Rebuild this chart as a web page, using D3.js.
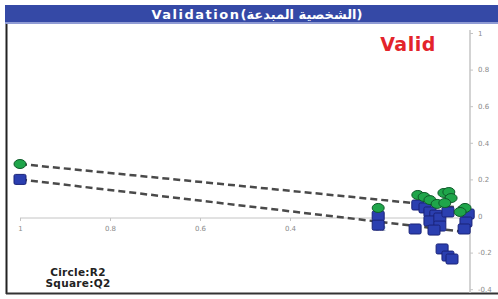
<!DOCTYPE html>
<meta charset="utf-8">
<style>
  body { margin: 0; background: #fff; }
  .tick text { fill: #8a8a8a; font-family: "DejaVu Sans", sans-serif; font-size: 7px; }
  .axis path, .axis line { stroke: #c4c4c4; }
</style>
<body>
<script src="https://d3js.org/d3.v7.min.js"></script>
<script>
  var width = 498,
      height = 299;

  // permutation values: x = correlation with original y, value = R2 or Q2
  var r2X = [1, 0.204, 0.116, 0.102, 0.089, 0.073, 0.058, 0.047, 0.042, 0.056, 0.011, 0.022];
  var r2Y = [0.284, 0.044, 0.115, 0.104, 0.087, 0.066, 0.126, 0.131, 0.098, 0.071, 0.044, 0.022];
  var q2X = [1, 0.204, 0.204, 0.116, 0.1, 0.089, 0.076, 0.089, 0.067, 0.049, 0.067, 0.08, 0.004, 0.009, 0.013, 0.122, 0.062, 0.049, 0.04];
  var q2Y = [0.2, 0.0, -0.05, 0.06, 0.044, 0.022, 0.005, -0.027, -0.011, 0.022, -0.055, -0.077, 0.011, -0.033, -0.071, -0.071, -0.18, -0.219, -0.235];
  // regression lines: [x, y] at both ends
  var r2Line = [[1, 0.284], [0, 0.04]];
  var q2Line = [[1, 0.2], [0, -0.09]];

  var xTicks = [1, 0.8, 0.6, 0.4, 0.2];
  var yTicks = [1, 0.8, 0.6, 0.4, 0.2, 0, -0.2, -0.4];

  var svg = d3.select("body").append("svg")
      .attr("width", width)
      .attr("height", height);

  var x = d3.scaleLinear().domain([1, 0]).range([20, 470]);
  var y = d3.scaleLinear().domain([1, -0.4]).range([33, 289.2]);

  // frame
  svg.append("rect")
      .attr("x", 5).attr("y", 5)
      .attr("width", width - 5).attr("height", 19)
      .attr("fill", "#3549a6");
  svg.append("rect")
      .attr("x", 5).attr("y", 22)
      .attr("width", width - 5).attr("height", 2)
      .attr("fill", "#8f9bd4");
  svg.append("line")
      .attr("x1", 6.5).attr("x2", 6.5).attr("y1", 24).attr("y2", 294)
      .attr("stroke", "#222").attr("stroke-width", 2);
  svg.append("line")
      .attr("x1", 6).attr("x2", width).attr("y1", 293.5).attr("y2", 293.5)
      .attr("stroke", "#333").attr("stroke-width", 2);

  var title = svg.append("text")
      .attr("x", 257).attr("y", 19)
      .attr("text-anchor", "middle")
      .attr("fill", "#fff")
      .style("font-family", "'DejaVu Sans', sans-serif")
      .style("font-weight", "bold");
  title.append("tspan")
      .style("font-size", "13px")
      .style("letter-spacing", "1.5px")
      .text("Validation");
  title.append("tspan")
      .style("font-size", "13px")
      .text("(الشخصية المبدعة)");

  // axes
  var yAxis = svg.append("g")
      .attr("class", "axis")
      .attr("transform", "translate(" + x(0) + ",0)")
      .call(d3.axisRight(y).tickValues(yTicks).tickSize(3).tickPadding(5)
        .tickFormat(function(d) { return String(+d.toFixed(1)); }));
  yAxis.select(".domain").attr("d", "M0,30V293").attr("stroke-width", 1.5);

  var xAxis = svg.append("g")
      .attr("class", "axis")
      .attr("transform", "translate(0," + (y(0) + 2) + ")")
      .call(d3.axisBottom(x).tickValues(xTicks).tickSize(3).tickPadding(5)
        .tickFormat(function(d) { return String(+d.toFixed(1)); }));
  xAxis.select(".domain").attr("d", "M" + x(1) + ",0H" + x(0));

  // regression lines
  var line = d3.line().x(function(d) { return x(d[0]); }).y(function(d) { return y(d[1]); });
  [r2Line, q2Line].forEach(function(l) {
    svg.append("path")
        .attr("d", line(l))
        .attr("fill", "none")
        .attr("stroke", "#4a4a4a")
        .attr("stroke-width", 2.5)
        .attr("stroke-dasharray", "7,4");
  });

  // squares (Q2)
  svg.append("g").selectAll("rect")
      .data(d3.range(q2X.length))
      .enter().append("rect")
        .attr("x", function(i) { return x(q2X[i]) - 6; })
        .attr("y", function(i) { return y(q2Y[i]) - 5; })
        .attr("width", 12).attr("height", 10)
        .attr("rx", 1.5)
        .attr("fill", "#2b3fb0")
        .attr("stroke", "#1a2378")
        .attr("stroke-width", 1);

  // circles (R2)
  svg.append("g").selectAll("ellipse")
      .data(d3.range(r2X.length))
      .enter().append("ellipse")
        .attr("cx", function(i) { return x(r2X[i]); })
        .attr("cy", function(i) { return y(r2Y[i]); })
        .attr("rx", 6).attr("ry", 4.5)
        .attr("fill", "#1fa54a")
        .attr("stroke", "#0f5a2a")
        .attr("stroke-width", 1);

  svg.append("text")
      .attr("x", 408).attr("y", 51)
      .attr("text-anchor", "middle")
      .attr("fill", "#e3242b")
      .style("font-family", "'DejaVu Sans', sans-serif")
      .style("font-size", "19px")
      .style("letter-spacing", "0.5px")
      .style("font-weight", "bold")
      .text("Valid");

  var legend = svg.append("g")
      .style("font-family", "'DejaVu Sans', sans-serif")
      .style("font-size", "10.5px")
      .style("font-weight", "bold")
      .style("letter-spacing", "0.3px")
      .attr("text-anchor", "middle")
      .attr("fill", "#222");
  legend.append("text").attr("x", 78).attr("y", 276).text("Circle:R2");
  legend.append("text").attr("x", 78).attr("y", 287).text("Square:Q2");
</script>
</body>
